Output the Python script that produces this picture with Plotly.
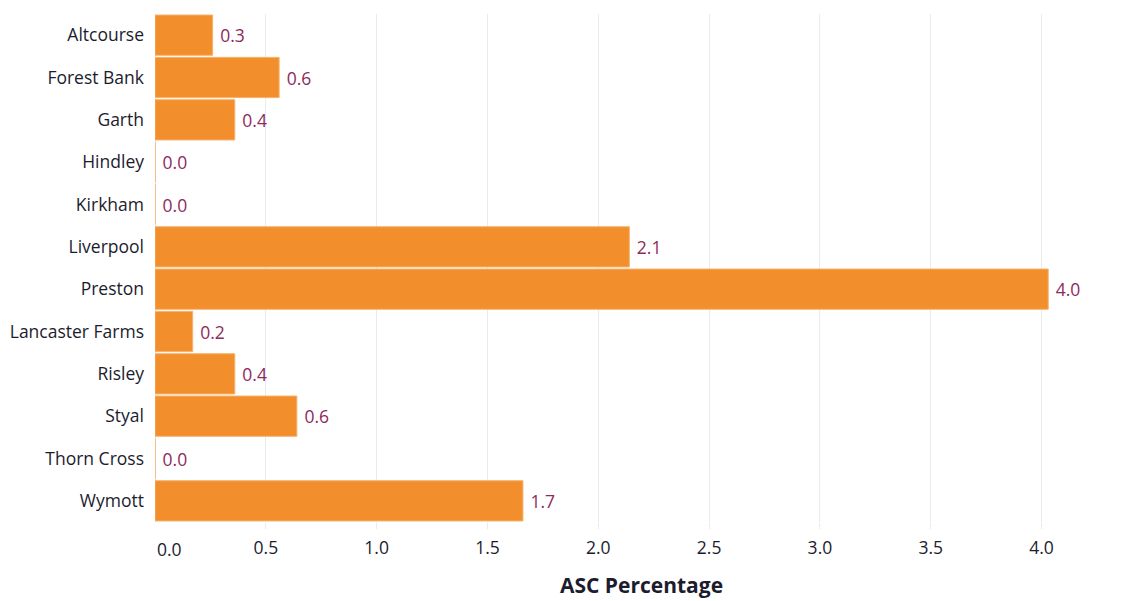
import plotly.graph_objects as go

# ASC percentage by establishment
prisons = ["Altcourse", "Forest Bank", "Garth", "Hindley", "Kirkham", "Liverpool",
           "Preston", "Lancaster Farms", "Risley", "Styal", "Thorn Cross", "Wymott"]
asc_pct = [0.26, 0.56, 0.36, 0.0, 0.0, 2.14, 4.03, 0.17, 0.36, 0.64, 0.0, 1.66]

x_ticks = [0.5, 1.0, 1.5, 2.0, 2.5, 3.0, 3.5, 4.0]
x_tick_text = ["0.5", "1.0", "1.5", "2.0", "2.5", "3.0", "3.5", "4.0"]

FONT = "'Open Sans', sans-serif"
TXT = "#1c1c2e"
SIZE = 17.5

fig = go.Figure(go.Bar(
    x=asc_pct,
    y=prisons,
    orientation="h",
    marker=dict(color="#F28E2B", line=dict(color="#F7B069", width=1)),
    texttemplate="\u00a0%{x:.1f}",
    textposition="outside",
    textfont=dict(family=FONT, size=SIZE, color="#8E2A5C"),
    cliponaxis=False,
))

fig.update_layout(
    width=1128, height=601,
    margin=dict(l=155, r=0, t=14, b=79),
    paper_bgcolor="white", plot_bgcolor="white",
    bargap=0.05,
    showlegend=False,
    font=dict(family=FONT, size=SIZE, color=TXT),
)

fig.update_xaxes(
    range=[0, 4.39],
    tickvals=x_ticks, ticktext=x_tick_text,
    showgrid=True, gridcolor="#EBEBEB", gridwidth=1,
    zeroline=True, zerolinecolor="#EBEBEB", zerolinewidth=1,
    showline=False,
    ticks="outside", ticklen=6, tickcolor="#EBEBEB",
    ticklabelstandoff=4,
    tickfont=dict(size=SIZE, color=TXT),
    title=dict(text="<b>ASC Percentage</b>", font=dict(size=21, color=TXT), standoff=20),
)

fig.update_yaxes(
    categoryorder="array", categoryarray=prisons, autorange="reversed",
    showgrid=False, showline=False, zeroline=False,
    ticks="", ticklabelstandoff=10,
    tickfont=dict(size=SIZE, color=TXT),
)

# First x tick label sits flush with the axis start
fig.add_annotation(
    x=0, y=0, xref="x", yref="paper",
    text="0.0", showarrow=False,
    xanchor="left", yanchor="top", yshift=-13,
    font=dict(family=FONT, size=SIZE, color=TXT),
)

fig.write_html("out.html")
